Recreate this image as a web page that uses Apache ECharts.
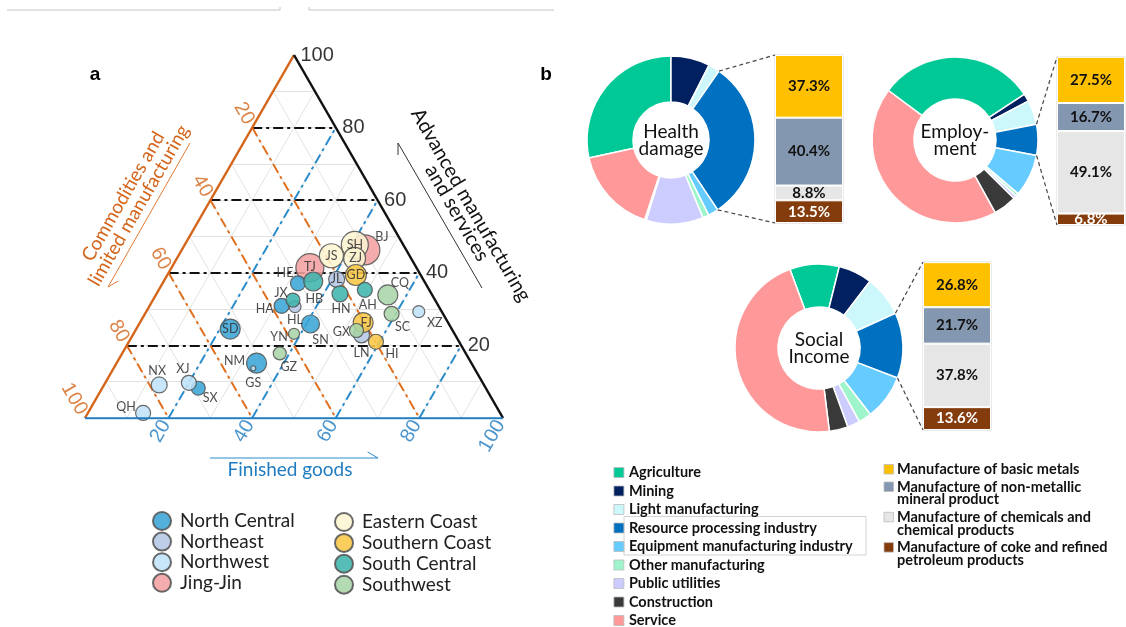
<!DOCTYPE html>
<html>
<head>
<meta charset="utf-8">
<script src="https://cdn.jsdelivr.net/npm/echarts@6/dist/echarts.min.js"></script>
<style>
  html, body { margin: 0; background: #fff; }
  #chart { width: 1126px; height: 627px; }
</style>
</head>
<body>
<div id="chart"></div>
<script>
// ---- panel a: ternary plot of provinces ----
const provinces = ['BJ', 'TJ', 'SH', 'JS', 'ZJ', 'HE', 'SD', 'HA', 'SX', 'NM', 'SN', 'JL', 'HL', 'LN',
  'XJ', 'NX', 'QH', 'GS', 'XZ', 'GD', 'FJ', 'HI', 'HB', 'JX', 'AH', 'HN', 'CQ', 'SC', 'GX', 'YN', 'GZ'];
const provinceRegion = ['Jing-Jin', 'Jing-Jin', 'Eastern Coast', 'Eastern Coast', 'Eastern Coast',
  'North Central', 'North Central', 'North Central', 'North Central', 'North Central', 'North Central',
  'Northeast', 'Northeast', 'Northeast',
  'Northwest', 'Northwest', 'Northwest', 'Northwest', 'Northwest',
  'Southern Coast', 'Southern Coast', 'Southern Coast',
  'South Central', 'South Central', 'South Central', 'South Central',
  'Southwest', 'Southwest', 'Southwest', 'Southwest', 'Southwest'];
// share of advanced manufacturing and services (%)
const advanced = [46.3, 41.4, 47.7, 44.7, 44.0, 37.1, 24.5, 30.9, 8.2, 15.1, 25.9, 38.2, 30.7, 22.9,
  9.7, 9.1, 1.4, 13.7, 29.3, 39.4, 26.3, 21.0, 37.6, 32.5, 35.3, 34.2, 33.9, 28.7, 24.1, 23.2, 17.8];
// share of finished goods (%)
const finished = [43.8, 33.1, 40.7, 36.6, 42.5, 32.4, 22.5, 31.6, 23.0, 33.5, 41.0, 41.1, 34.9, 54.7,
  20.0, 13.2, 13.2, 33.4, 65.2, 45.1, 53.4, 59.1, 35.8, 33.5, 49.3, 43.9, 55.5, 59.0, 52.9, 38.4, 37.7];
// bubble magnitude
const bubble = [30, 28, 27, 24, 22, 15, 20, 15, 14, 20, 18, 16, 12, 16,
  15, 16, 15, 5, 12, 21, 20, 15, 19, 14, 15, 16, 20, 15, 14, 11, 13];

const regionNames = ['North Central', 'Northeast', 'Northwest', 'Jing-Jin',
  'Eastern Coast', 'Southern Coast', 'South Central', 'Southwest'];
const regionColors = ['#3aa5d6', '#b6c7e5', '#bfe3f8', '#f2a0a2', '#fdf5d2', '#f8c746', '#3fb5ad', '#a8d5a7'];
const drawOrder = ['Jing-Jin', 'Eastern Coast', 'North Central', 'Northeast', 'Northwest',
  'Southern Coast', 'South Central', 'Southwest'];

const axisTicks = [20, 40, 60, 80, 100];

// ---- panel b: donuts and resource-processing breakdown ----
const sectors = ['Agriculture', 'Mining', 'Light manufacturing', 'Resource processing industry',
  'Equipment manufacturing industry', 'Other manufacturing', 'Public utilities', 'Construction', 'Service'];
const sectorColors = ['#00c896', '#002060', '#ccf7fb', '#0070c0', '#66ccff', '#9ef5cb', '#ccccff', '#3a3a3a', '#ff9999'];
const healthShares = [28.5, 7.5, 2.2, 31.0, 2.0, 1.2, 11.0, 0.3, 16.5];
const employmentShares = [30.4, 1.5, 4.7, 6.0, 8.2, 0.6, 0.6, 4.5, 43.0];
const incomeShares = [9.5, 6.5, 7.8, 12.6, 8.7, 2.5, 2.4, 3.6, 46.3];

const resourceParts = ['Manufacture of basic metals', 'Manufacture of non-metallic mineral product',
  'Manufacture of chemicals and chemical products', 'Manufacture of coke and refined petroleum products'];
const partLegendText = ['Manufacture of basic metals', 'Manufacture of non-metallic\nmineral product',
  'Manufacture of chemicals and\nchemical products', 'Manufacture of coke and refined\npetroleum products'];
const partColors = ['#ffc000', '#8497b0', '#e7e6e6', '#843c0c'];
const healthParts = [37.3, 40.4, 8.8, 13.5];
const employmentParts = [27.5, 16.7, 49.1, 6.8];
const incomeParts = [26.8, 21.7, 37.8, 13.6];

// label placement around bubbles
const labelOffset = {
  BJ: [17, -13], TJ: [0, -1], SH: [0, 0], JS: [0, 0], ZJ: [1, 0], HE: [-13, -10], SD: [0, 0],
  HA: [-17, 3], SX: [12, 10], NM: [-22, -2], SN: [10, 16], JL: [0, 0], HL: [0, 13], LN: [0, 18],
  XJ: [-6, -14], NX: [-2, -14], QH: [-17, -6], GS: [0, 15], XZ: [16, 11], GD: [0, 0], FJ: [3, 0],
  HI: [16, 12], HB: [1, 17], JX: [-12, -7], AH: [3, 15], HN: [1, 15], CQ: [12, -12], SC: [11, 13],
  GX: [-15, 1], YN: [-15, 3], GZ: [9, 14]
};

const chart = echarts.init(document.getElementById('chart'));

const tern = (a, b) => [b + a / 2, a];
const seg = (p, q) => ({ coords: [p, q] });

const fineLines = [];
for (let k = 10; k < 100; k += 10) {
  fineLines.push(seg(tern(k, 0), tern(k, 100 - k)));
  fineLines.push(seg(tern(0, k), tern(100 - k, k)));
  fineLines.push(seg(tern(100 - k, 0), tern(0, 100 - k)));
}
const major = axisTicks.filter(v => v < 100);

function lineSeries(data, color, width, type, z) {
  return {
    type: 'lines', coordinateSystem: 'cartesian2d', xAxisIndex: 0, yAxisIndex: 0,
    silent: true, z: z, symbol: ['none', 'none'],
    lineStyle: { color: color, width: width, type: type, opacity: 1, curveness: 0 },
    data: data
  };
}

function tickSeries(points, color, label) {
  return {
    type: 'scatter', xAxisIndex: 0, yAxisIndex: 0, silent: true, z: 6,
    symbolSize: 1, itemStyle: { color: 'rgba(0,0,0,0)' },
    data: points,
    label: Object.assign({
      show: true, color: color, fontSize: 20, fontFamily: 'Liberation Sans',
      formatter: p => p.name
    }, label)
  };
}

const dashDot = [10, 4, 3, 4];
const series = [
  lineSeries(fineLines, '#e2e2e2', 1, 'solid', 1),
  lineSeries(major.map(k => seg(tern(k, 0), tern(k, 100 - k))), '#111', 2, dashDot, 2),
  lineSeries(major.map(k => seg(tern(0, k), tern(100 - k, k))), '#2b8ccc', 2, dashDot, 2),
  lineSeries(major.map(k => seg(tern(100 - k, 0), tern(0, 100 - k))), '#e0701f', 2, dashDot, 2),
  lineSeries([seg(tern(0, 0), tern(100, 0))], '#d4651a', 2.5, 'solid', 4),
  lineSeries([seg(tern(0, 100), tern(100, 0))], '#111', 2.5, 'solid', 4),
  tickSeries(axisTicks.map(k => ({ name: String(k), value: tern(k, 100 - k) })), '#000',
    { position: 'right', distance: 6 }),
  tickSeries(axisTicks.map(k => ({ name: String(k), value: tern(0, k) })), '#1f7cc1',
    { position: [-2, 4], rotate: 60, align: 'right', verticalAlign: 'middle' }),
  tickSeries(axisTicks.map(k => ({ name: String(k), value: tern(100 - k, 0) })), '#d4651a',
    { position: [-2, -4], rotate: -60, align: 'right', verticalAlign: 'middle' })
];

drawOrder.forEach(region => {
  const ri = regionNames.indexOf(region);
  const data = [];
  provinces.forEach((p, k) => {
    if (provinceRegion[k] !== region) return;
    data.push({
      name: p,
      value: tern(advanced[k], finished[k]).concat(bubble[k]),
      label: { offset: labelOffset[p] }
    });
  });
  series.push({
    type: 'scatter', name: region, xAxisIndex: 0, yAxisIndex: 0, z: 3,
    symbolSize: v => v[2],
    itemStyle: { color: regionColors[ri], borderColor: '#555', borderWidth: 1.2, opacity: 0.88 },
    emphasis: { disabled: true },
    label: {
      show: true, position: 'inside', formatter: p => p.name,
      fontSize: 12.5, fontFamily: 'Lato', color: '#333'
    },
    data: data
  });
});
// blue bottom edge drawn over the bubbles
series.push(lineSeries([seg(tern(0, 0), tern(0, 100))], '#1f7cc1', 2.5, 'solid', 5));

// donuts; turn = clockwise angle from 12 o'clock where the Mining slice begins
const donutLayout = [
  { center: [671, 140], radius: [38, 84], turn: 0, title: 'Health\ndamage', shares: healthShares },
  { center: [955, 140], radius: [41, 83], turn: 56.6, title: 'Employ-\nment', shares: employmentShares },
  { center: [819, 348], radius: [41, 84], turn: 14, title: 'Social\nIncome', shares: incomeShares }
];
donutLayout.forEach(d => {
  const total = d.shares.reduce((s, v) => s + v, 0);
  series.push({
    type: 'pie', center: d.center, radius: d.radius, silent: true,
    startAngle: 90 - d.turn + d.shares[0] / total * 360, clockwise: true,
    avoidLabelOverlap: false, label: { show: false }, labelLine: { show: false },
    itemStyle: { borderColor: '#fff', borderWidth: 1.5 },
    data: sectors.map((n, i) => ({ name: n, value: d.shares[i], itemStyle: { color: sectorColors[i] } }))
  });
});

// stacked breakdown bars
const barGrids = [
  { left: 775, top: 55, width: 68, height: 168 },
  { left: 1057, top: 57, width: 68, height: 168 },
  { left: 923, top: 262, width: 68, height: 168 }
];
const barSets = [healthParts, employmentParts, incomeParts];
barSets.forEach((vals, g) => {
  for (let i = resourceParts.length - 1; i >= 0; i--) {
    series.push({
      type: 'bar', name: resourceParts[i], xAxisIndex: g + 1, yAxisIndex: g + 1,
      stack: 's' + g, barWidth: '100%', silent: true,
      itemStyle: { color: partColors[i], borderColor: '#fff', borderWidth: 1 },
      label: {
        show: true, position: 'inside', formatter: '{c}%',
        fontFamily: 'Lato', fontWeight: 'bold', fontSize: 15, color: i === 3 ? '#fff' : '#111'
      },
      data: [vals[i]]
    });
  }
});

// graphics: titles, arrows, connectors, part legend
const graphics = [];
function txt(x, y, text, font, fill, rotation, lineHeight, align) {
  graphics.push({
    type: 'text', x: x, y: y, rotation: rotation || 0, z: 10,
    style: {
      text: text, font: font, fill: fill, lineHeight: lineHeight,
      align: align || 'center', verticalAlign: 'middle',
      textAlign: align || 'center', textVerticalAlign: 'middle'
    }
  });
}
function arrow(from, to, color) {
  const back = Math.atan2(from[1] - to[1], from[0] - to[0]) + Math.PI / 6;
  graphics.push({ type: 'line', z: 10, shape: { x1: from[0], y1: from[1], x2: to[0], y2: to[1] },
    style: { stroke: color, lineWidth: 1 } });
  graphics.push({ type: 'line', z: 10, shape: { x1: to[0], y1: to[1],
    x2: to[0] + 12 * Math.cos(back), y2: to[1] + 12 * Math.sin(back) },
    style: { stroke: color, lineWidth: 1 } });
}

txt(95, 75, 'a', 'bold 19px Liberation Sans', '#000');
txt(546, 75, 'b', 'bold 19px Liberation Sans', '#000');
txt(131, 201, 'Commodities and\nlimited manufacturing', '19px Lato', '#d4651a', Math.PI / 3, 18);
txt(464, 209, 'Advanced manufacturing\nand services', '20px Lato', '#111', -Math.PI / 3, 16);
txt(290, 470, 'Finished goods', '19px Lato', '#1f7cc1');
arrow([190, 143], [108, 287], '#e07a35');
arrow([482, 288], [398, 143], '#333');
arrow([210, 458], [378, 458], '#2b8ccc');

graphics.push({ type: 'polyline', shape: { points: [[7, 10], [280, 10], [280, 7]] }, style: { stroke: '#c4c4c4', lineWidth: 1, fill: null } });
graphics.push({ type: 'polyline', shape: { points: [[309, 7], [309, 10], [554, 10]] }, style: { stroke: '#c4c4c4', lineWidth: 1, fill: null } });

donutLayout.forEach((d, g) => {
  txt(d.center[0], d.center[1], d.title, '19px Lato', '#111', 0, 17);
  // connectors from resource processing slice to its breakdown bar
  const total = d.shares.reduce((s, v) => s + v, 0);
  const startT = (d.turn + (d.shares[1] + d.shares[2]) / total * 360) * Math.PI / 180;
  const endT = startT + d.shares[3] / total * 2 * Math.PI;
  const r = d.radius[1];
  const gb = barGrids[g];
  [[startT, gb.top], [endT, gb.top + gb.height]].forEach(([t, by]) => {
    graphics.push({ type: 'line', z: 10,
      shape: { x1: d.center[0] + r * Math.sin(t), y1: d.center[1] - r * Math.cos(t), x2: gb.left, y2: by },
      style: { stroke: '#444', lineWidth: 1.2, lineDash: [4, 3] } });
  });
});

let ly = 469.5;
partLegendText.forEach((label, i) => {
  graphics.push({ type: 'rect', z: 10, shape: { x: 884, y: ly - 5, width: 9.5, height: 9.5 },
    style: { fill: partColors[i], stroke: '#bbb', lineWidth: 0.8 } });
  graphics.push({ type: 'text', z: 10, x: 897, y: ly - 6.5,
    style: { text: label, font: 'bold 14.5px Lato', fill: '#111', lineHeight: 12.8,
      align: 'left', verticalAlign: 'top', textAlign: 'left', textVerticalAlign: 'top' } });
  ly += label.split('\n').length * 12.8 + 4.7;
});
graphics.push({ type: 'rect', z: 1, shape: { x: 624, y: 516.5, width: 242, height: 38.5 },
  style: { fill: null, stroke: '#d2d2d2', lineWidth: 1 } });

const regionLegendBase = {
  orient: 'vertical', icon: 'circle', itemWidth: 26, itemHeight: 18, selectedMode: false, padding: 0,
  textStyle: { fontFamily: 'Lato', fontSize: 19, color: '#222', lineHeight: 18 }
};

const option = {
  animation: false,
  grid: [
    { left: 85, top: 55, width: 418, height: 363 }
  ].concat(barGrids.map(b => Object.assign({ show: true, borderColor: '#d6d6d6', borderWidth: 1, backgroundColor: 'transparent' }, b))),
  xAxis: [{ type: 'value', gridIndex: 0, min: 0, max: 100, show: false }]
    .concat(barGrids.map((b, g) => ({ type: 'category', gridIndex: g + 1, data: ['share'], show: false }))),
  yAxis: [{ type: 'value', gridIndex: 0, min: 0, max: 100, show: false }]
    .concat(barGrids.map((b, g) => ({ type: 'value', gridIndex: g + 1, min: 0, max: 100, show: false }))),
  legend: [
    Object.assign({ data: regionNames.slice(0, 4), left: 152, top: 511, itemGap: 0.6 }, regionLegendBase),
    Object.assign({ data: regionNames.slice(4), left: 334, top: 512, itemGap: 0.9 }, regionLegendBase),
    {
      data: sectors, orient: 'vertical', left: 613.5, top: 465, height: 200, padding: 0, icon: 'rect',
      itemWidth: 10, itemHeight: 10, itemGap: 3.5, selectedMode: false,
      itemStyle: { borderColor: '#bbb', borderWidth: 0.8 },
      textStyle: { fontFamily: 'Lato', fontWeight: 'bold', fontSize: 14.5, color: '#111', lineHeight: 14 }
    }
  ],
  graphic: { elements: graphics },
  series: series
};

chart.setOption(option);
</script>
</body>
</html>
